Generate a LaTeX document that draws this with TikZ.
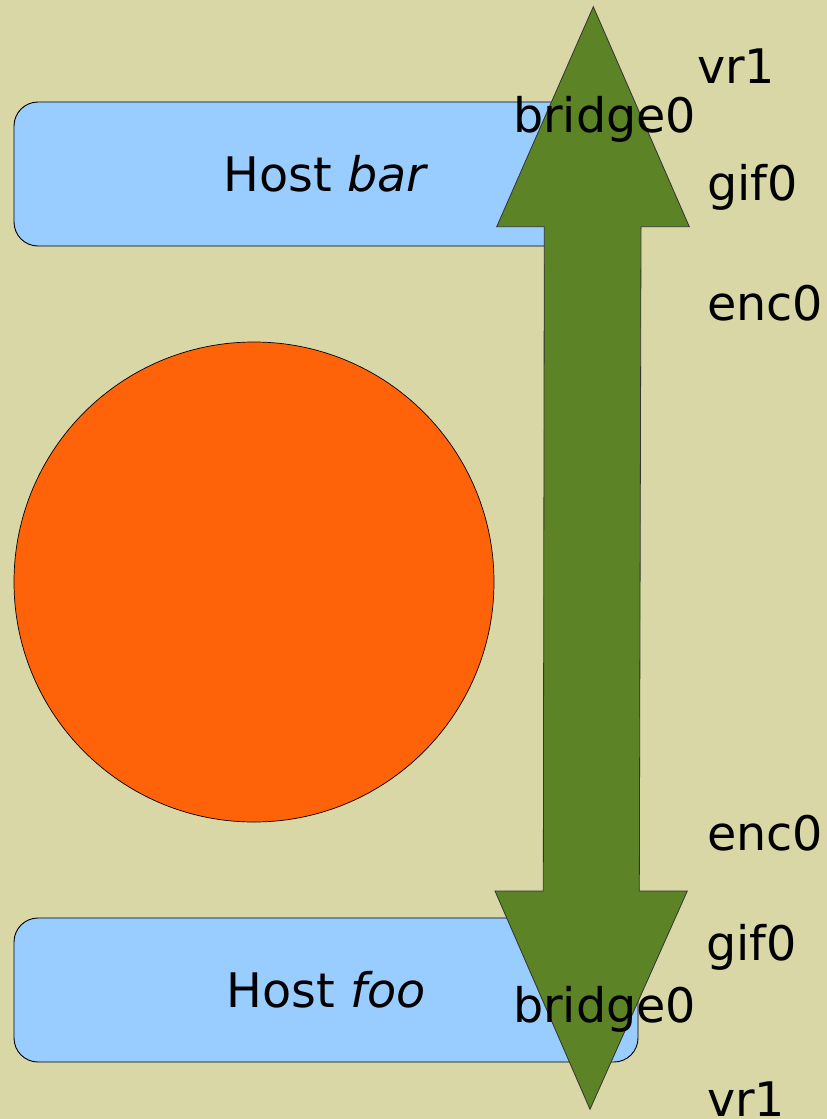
\documentclass[tikz,border=0pt]{standalone}
\usepackage{fontspec}
\setmainfont{DejaVu Sans}
\definecolor{bgc}{RGB}{217,215,166}
\definecolor{hostc}{RGB}{153,204,255}
\definecolor{circc}{RGB}{255,99,10}
\definecolor{arrc}{RGB}{92,131,38}
\tikzset{
  hostbox/.style={draw=black, line width=0.9pt, fill=hostc, rounded corners=24pt, minimum width=624pt, minimum height=144pt, inner sep=0pt, font=\fontsize{47.6}{56}\selectfont},
  lbl/.style={anchor=base west, inner sep=0pt, font=\fontsize{47.6}{56}\selectfont},
}
\begin{document}
\begin{tikzpicture}[x=1pt,y=-1pt]
\fill[bgc] (0,0) rectangle (827,1119);
\useasboundingbox (0,0) rectangle (827,1119);
\node[hostbox] (bar) at (326,174) {Host \textit{bar}};
\node[hostbox] (foo) at (326,990) {Host \textit{foo}};
\node[circle, draw=black, line width=0.7pt, fill=circc, minimum size=480pt, inner sep=0pt] (net) at (254,582) {};
\draw[fill=arrc, draw=black!80, line width=0.8pt, line join=miter]
  (593.3,6.7) -- (689.3,226.7) -- (641,226.7) -- (639.3,891) -- (687.3,891)
  -- (590,1109.3) -- (495,891) -- (543.3,891) -- (544.3,226.7) -- (496.7,226.7) -- cycle;
\node[lbl] (vrtop) at (697,83) {vr1};
\node[lbl] (brtop) at (513,132) {bridge0};
\node[lbl] (giftop) at (707,200) {gif0};
\node[lbl] (enctop) at (707,320) {enc0};
\node[lbl] (encbot) at (707,850) {enc0};
\node[lbl] (gifbot) at (706,960) {gif0};
\node[lbl] (brbot) at (513,1022) {bridge0};
\node[lbl] (vrbot) at (707,1116) {vr1};
\end{tikzpicture}
\end{document}
